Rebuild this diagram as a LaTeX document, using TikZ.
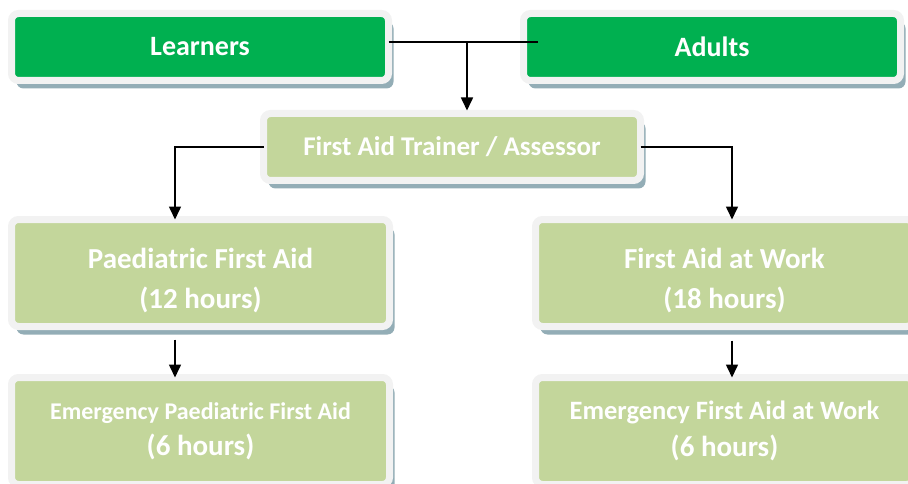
\documentclass[tikz,border=0pt]{standalone}
\usepackage{fontspec}
\setmainfont{Carlito}
\usepackage{tikz}
\usetikzlibrary{calc,shadows,arrows.meta}
\definecolor{topgreen}{HTML}{00B050}
\definecolor{coursegreen}{HTML}{C3D69B}
\definecolor{framegray}{HTML}{F2F2F2}
\definecolor{shadowblue}{HTML}{93ADB6}
\tikzset{
   box node/.style={rectangle,rounded corners=7pt,draw=framegray,line width=7pt,
                    outer sep=0pt,inner sep=0pt,text=white,align=center,
                    drop shadow={shadow xshift=5pt,shadow yshift=-8pt,fill=shadowblue,opacity=1}},
   top node/.style={box node,fill=topgreen,minimum width=377pt,minimum height=67pt,
                    font=\bfseries\fontsize{28}{34}\selectfont},
   course node/.style={box node,fill=coursegreen,minimum width=378pt,minimum height=107pt,
                    font=\bfseries\fontsize{29}{40}\selectfont}
}
\begin{document}
\begin{tikzpicture}[x=1pt,y=-1pt,
                    ->,>={Triangle[length=13pt,width=12pt]},line width=1.6pt]
\useasboundingbox (0,0) rectangle (908,484);
\node[top node] (learners) at (200,47) {Learners};
\node[top node] (adults) at (712,47) {Adults};
\node[top node,fill=coursegreen,font=\bfseries\fontsize{27}{32}\selectfont] (trainer) at (452,147) {First Aid Trainer / Assessor};
%
\node[course node] (paed) at (200.5,273) {\rule{0pt}{35pt}Paediatric First Aid\\(12 hours)};
\node[course node] (work) at (724.5,273) {\rule{0pt}{35pt}First Aid at Work\\(18 hours)};
\node[course node,font=\bfseries\fontsize{29}{36}\selectfont] (epaed) at (200.5,431) {{\fontsize{24}{36}\selectfont Emergency Paediatric First Aid}\\(6 hours)};
\node[course node,font=\bfseries\fontsize{29}{37}\selectfont] (ework) at (724.5,431) {{\fontsize{26.5}{37}\selectfont Emergency First Aid at Work}\\(6 hours)};
%
\coordinate (join) at (467,42);
\coordinate (lcol) at (175,0);
\coordinate (rcol) at (732,0);
\draw[-] (learners.east |- join) -- ($(adults.west |- join)+(14,0)$);
\draw[shorten >=3pt] (join) -- (join |- trainer.north);
\draw (trainer.west) -| (lcol |- paed.north);
\draw (trainer.east) -| (rcol |- work.north);
\draw[shorten <=13pt] (lcol |- paed.south) -- (lcol |- epaed.north);
\draw[shorten <=14pt] (rcol |- work.south) -- (rcol |- ework.north);
\end{tikzpicture}
\end{document}
